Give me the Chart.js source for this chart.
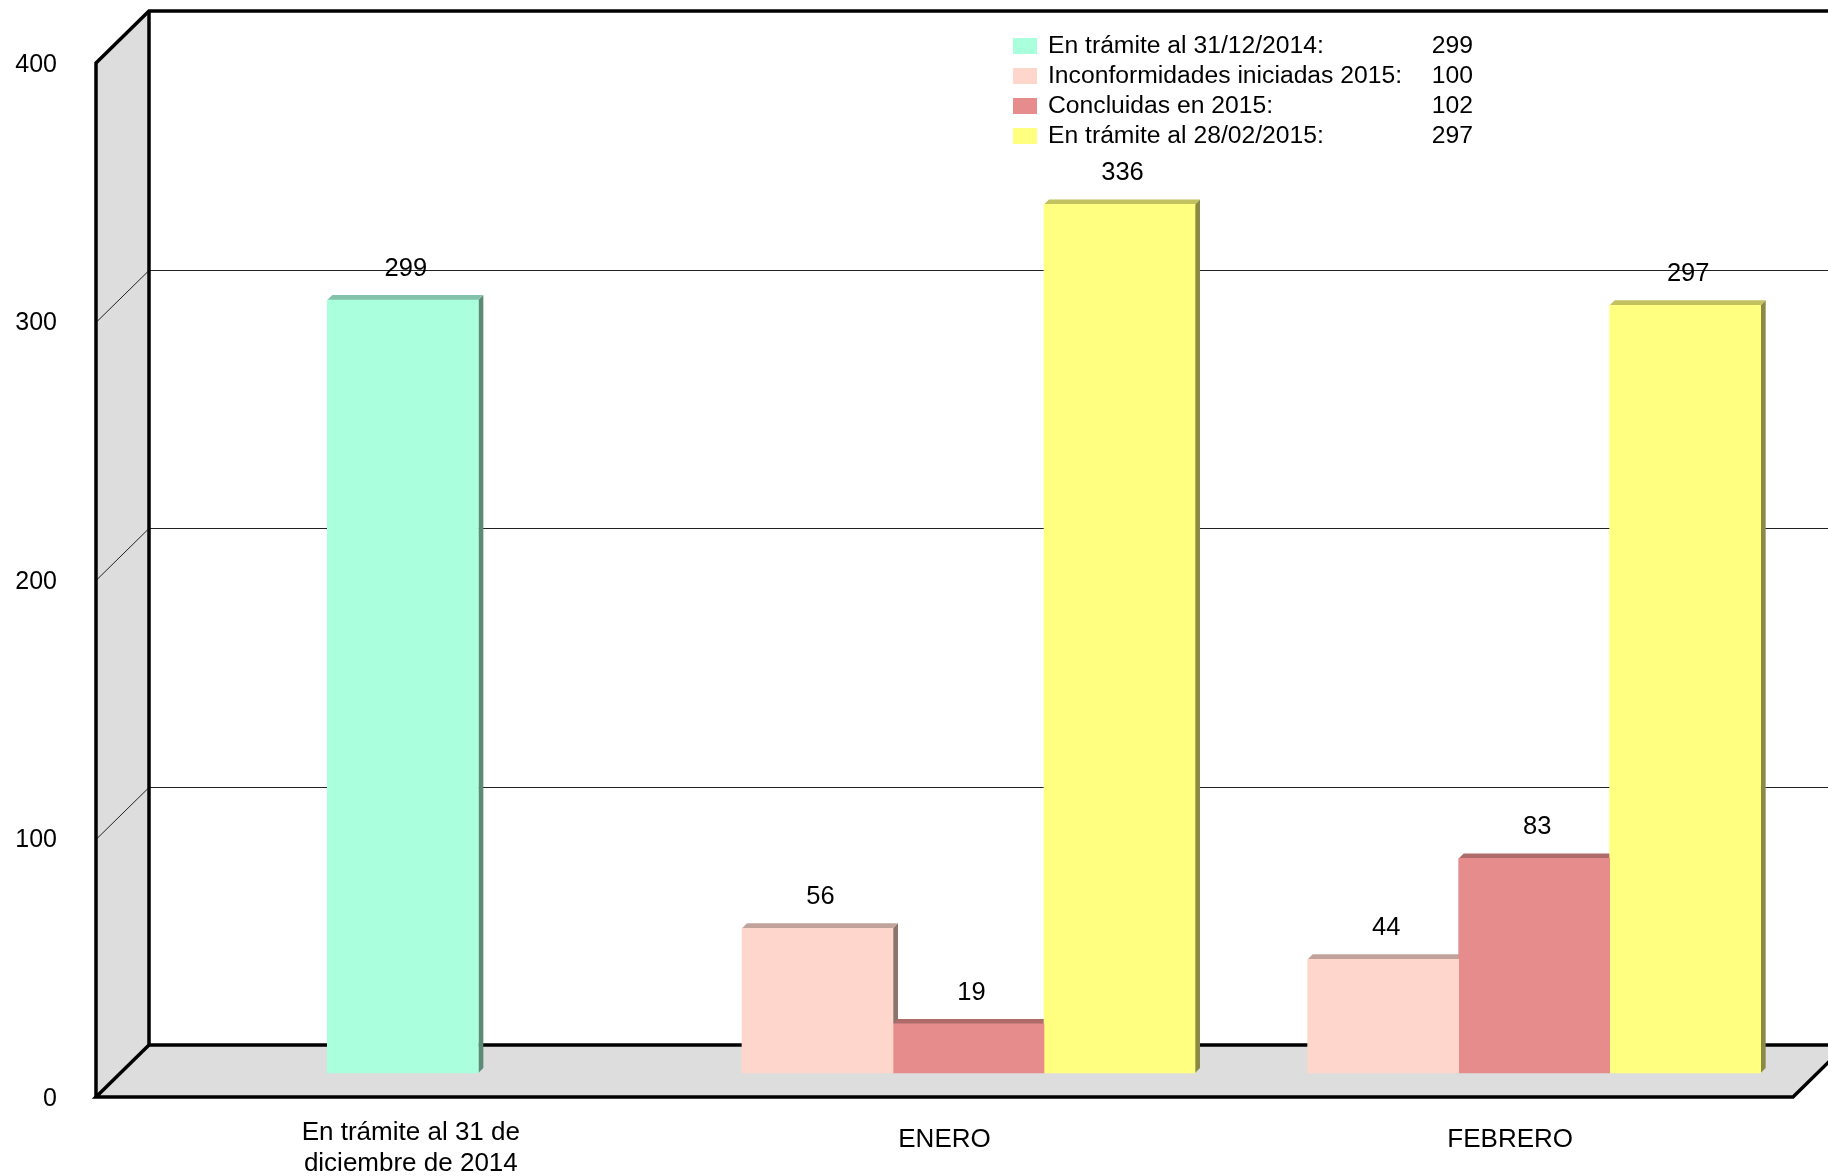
<!DOCTYPE html>
<html>
<head>
<meta charset="utf-8">
<script src="https://cdn.jsdelivr.net/npm/chart.js@4/dist/chart.umd.min.js"></script>
<style>
html,body{margin:0;padding:0;background:#fff;overflow:hidden}
canvas{display:block}
</style>
</head>
<body>
<canvas id="c" width="1828" height="1176"></canvas>
<script>
// ---- data ----
const categories = [["En trámite al 31 de", "diciembre de 2014"], "ENERO", "FEBRERO"];
const seriesNames = ["En trámite al 31/12/2014:", "Inconformidades iniciadas 2015:", "Concluidas en 2015:", "En trámite al 28/02/2015:"];
const tramite2014 = [299, null, null];
const iniciadas2015 = [null, 56, 44];
const concluidas2015 = [null, 19, 83];
const tramite2015 = [null, 336, 297];
const legendTotals = [299, 100, 102, 297];
const yTicks = [0, 100, 200, 300, 400];

// ---- styling ----
const FONT = '"Liberation Sans", Arial, Helvetica, sans-serif';
const COLORS = ['#AAFFDD', '#FFD6CC', '#E68C8C', '#FFFF80'];
const DEPTH_X = 53, DEPTH_Y = 52;   // wall depth
const BAR_SHIFT = 24;               // bars sit inside the depth
const CAP = 5;                      // bar top/side bevel

function shade(hex, f) {
  const n = parseInt(hex.slice(1), 16);
  const r = Math.round(((n >> 16) & 255) * f);
  const g = Math.round(((n >> 8) & 255) * f);
  const b = Math.round((n & 255) * f);
  return `rgb(${r},${g},${b})`;
}

const threeD = {
  id: 'threeD',
  beforeDraw(chart) {
    const { ctx, chartArea: a, scales: { y } } = chart;
    const L = a.left, R = a.right, T = a.top, B = a.bottom;
    ctx.save();
    ctx.fillStyle = '#fff';
    ctx.fillRect(0, 0, chart.width, chart.height);
    // left wall + floor
    ctx.fillStyle = '#DDDDDD';
    ctx.beginPath();
    ctx.moveTo(L, T); ctx.lineTo(L + DEPTH_X, T - DEPTH_Y);
    ctx.lineTo(L + DEPTH_X, B - DEPTH_Y); ctx.lineTo(L, B); ctx.closePath(); ctx.fill();
    ctx.beginPath();
    ctx.moveTo(L, B); ctx.lineTo(L + DEPTH_X, B - DEPTH_Y);
    ctx.lineTo(R + DEPTH_X, B - DEPTH_Y); ctx.lineTo(R, B); ctx.closePath(); ctx.fill();
    // grid lines (side wall + back wall)
    ctx.strokeStyle = '#222';
    ctx.lineWidth = 1;
    yTicks.forEach(v => {
      if (v === y.min || v === y.max) return;
      const py = Math.round(y.getPixelForValue(v)) + 0.5;
      ctx.beginPath();
      ctx.moveTo(L, py);
      ctx.lineTo(L + DEPTH_X, py - DEPTH_Y);
      ctx.lineTo(R + DEPTH_X, py - DEPTH_Y);
      ctx.stroke();
    });
    // frame
    ctx.strokeStyle = '#000';
    ctx.lineWidth = 3.5;
    ctx.lineJoin = 'miter';
    ctx.beginPath();
    ctx.moveTo(L, B); ctx.lineTo(L, T); ctx.lineTo(L + DEPTH_X, T - DEPTH_Y); ctx.lineTo(R + DEPTH_X, T - DEPTH_Y);
    ctx.stroke();
    ctx.beginPath();
    ctx.moveTo(L + DEPTH_X, T - DEPTH_Y); ctx.lineTo(L + DEPTH_X, B - DEPTH_Y); ctx.lineTo(R + DEPTH_X, B - DEPTH_Y);
    ctx.stroke();
    ctx.beginPath();
    ctx.moveTo(L + DEPTH_X, B - DEPTH_Y); ctx.lineTo(L, B); ctx.lineTo(R, B); ctx.lineTo(R + DEPTH_X, B - DEPTH_Y);
    ctx.stroke();
    ctx.restore();
  },
  beforeDatasetsDraw(chart) {
    const ctx = chart.ctx;
    ctx.save();
    ctx.translate(BAR_SHIFT, -BAR_SHIFT);
    const bars = [];
    chart.data.datasets.forEach((ds, di) => {
      const meta = chart.getDatasetMeta(di);
      meta.data.forEach((el, i) => {
        if (ds.data[i] == null) return;
        bars.push({ el, color: ds.backgroundColor });
      });
    });
    bars.sort((p, q) => p.el.x - q.el.x);
    bars.forEach(({ el, color }) => {
      const { x, y, base, width } = el.getProps(['x', 'y', 'base', 'width'], true);
      const l = x - width / 2, r = x + width / 2;
      ctx.fillStyle = shade(color, 0.54);
      ctx.beginPath();
      ctx.moveTo(r, y); ctx.lineTo(r + CAP, y - CAP); ctx.lineTo(r + CAP, base - CAP); ctx.lineTo(r, base);
      ctx.closePath(); ctx.fill();
      ctx.fillStyle = shade(color, 0.76);
      ctx.beginPath();
      ctx.moveTo(l, y); ctx.lineTo(l + CAP, y - CAP); ctx.lineTo(r + CAP, y - CAP); ctx.lineTo(r, y);
      ctx.closePath(); ctx.fill();
    });
  },
  afterDatasetsDraw(chart) {
    const ctx = chart.ctx;
    ctx.fillStyle = '#000';
    ctx.font = `25.5px ${FONT}`;
    ctx.textAlign = 'center';
    ctx.textBaseline = 'middle';
    chart.data.datasets.forEach((ds, di) => {
      const meta = chart.getDatasetMeta(di);
      meta.data.forEach((el, i) => {
        if (ds.data[i] == null) return;
        ctx.fillText(String(ds.data[i]), el.x + 3, el.y - 31);
      });
    });
    ctx.restore(); // undo bar shift
  },
  afterDraw(chart) {
    const { ctx, chartArea: a, scales: { x } } = chart;
    ctx.save();
    // category labels
    ctx.fillStyle = '#000';
    ctx.font = `26px ${FONT}`;
    ctx.textAlign = 'center';
    ctx.textBaseline = 'middle';
    categories.forEach((lbl, i) => {
      const cx = x.getPixelForValue(i);
      if (Array.isArray(lbl)) {
        lbl.forEach((line, k) => ctx.fillText(line, cx + 32, a.bottom + 36 + k * 31));
      } else {
        ctx.fillText(lbl, cx, a.bottom + 43);
      }
    });
    // legend
    ctx.font = `24.7px ${FONT}`;
    seriesNames.forEach((name, i) => {
      const ry = 46 + i * 30;
      ctx.fillStyle = COLORS[i];
      ctx.fillRect(1013, ry - 8, 24, 16);
      ctx.fillStyle = '#000';
      ctx.textAlign = 'left';
      ctx.fillText(name, 1048, ry);
      ctx.textAlign = 'right';
      ctx.fillText(String(legendTotals[i]), 1473, ry);
    });
    ctx.restore();
  }
};

const seriesData = [tramite2014, iniciadas2015, concluidas2015, tramite2015];

new Chart(document.getElementById('c'), {
  type: 'bar',
  data: {
    labels: categories,
    datasets: seriesNames.map((name, i) => ({
      label: name,
      data: seriesData[i],
      backgroundColor: COLORS[i],
      borderWidth: 0
    }))
  },
  options: {
    responsive: false,
    animation: false,
    devicePixelRatio: 1,
    layout: { padding: { top: 63, right: 35, left: 0, bottom: 0 } },
    datasets: { bar: { skipNull: true, barThickness: 151, clip: false, grouped: true } },
    plugins: { legend: { display: false }, tooltip: { enabled: false } },
    scales: {
      x: {
        grid: { display: false },
        border: { display: false },
        ticks: { display: false },
        afterFit(s) { s.height = 79; }
      },
      y: {
        min: 0, max: 400,
        grid: { display: false },
        border: { display: false },
        afterBuildTicks(s) { s.ticks = yTicks.map(v => ({ value: v })); },
        ticks: { padding: 31, labelOffset: 2, color: '#000', font: { family: FONT, size: 25 } },
        afterFit(s) { s.width = 96; }
      }
    }
  },
  plugins: [threeD]
});
</script>
</body>
</html>
